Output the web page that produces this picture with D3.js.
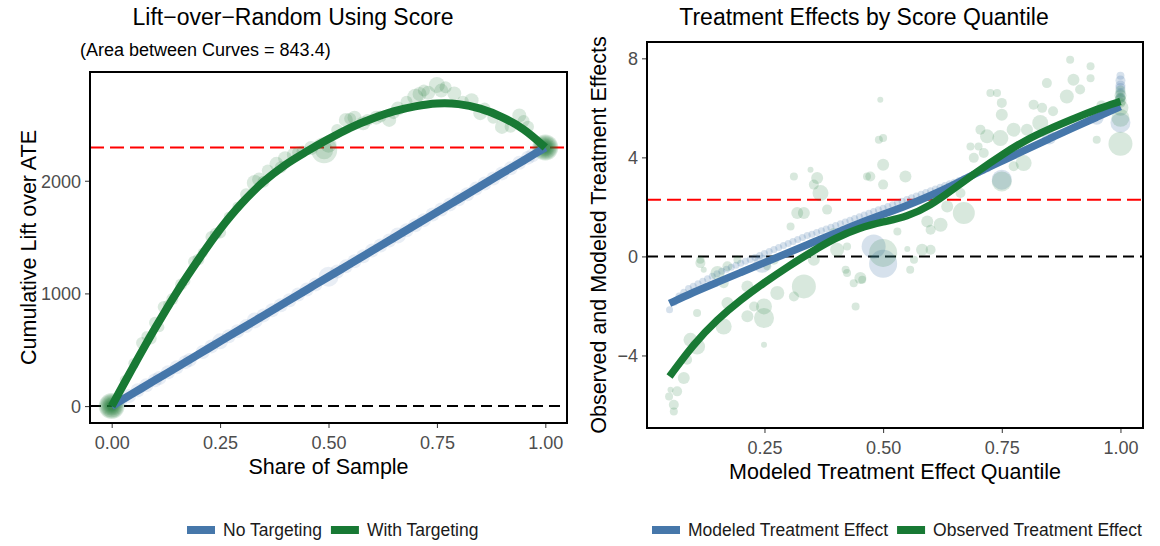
<!DOCTYPE html>
<html>
<head>
<meta charset="utf-8">
<script src="https://cdn.jsdelivr.net/npm/d3@7"></script>
<style>
  body { margin: 0; background: #fff; font-family: "Liberation Sans", Arial, sans-serif; }
  .tick text { fill: #4d4d4d; font-size: 18px; font-family: "Liberation Sans", Arial, sans-serif; }
  .tick line { stroke: #333; }
</style>
</head>
<body>
<div id="chart"></div>
<script>
// ---- left panel: cumulative lift ----
const liftShare = [0, 0.05, 0.1, 0.15, 0.2, 0.25, 0.3, 0.35, 0.4, 0.45, 0.5, 0.55, 0.6, 0.65, 0.7, 0.75, 0.8, 0.85, 0.9, 0.95, 1.0];
const liftTargeted = [0, 350, 690, 1010, 1300, 1570, 1800, 1990, 2140, 2260, 2370, 2470, 2550, 2615, 2660, 2685, 2680, 2640, 2565, 2455, 2295];
const liftRandom = [0, 115, 230, 344, 459, 574, 689, 803, 918, 1033, 1148, 1262, 1377, 1492, 1607, 1721, 1836, 1951, 2066, 2180, 2295];
const ateLift = 2295;
const areaBetween = 843.4;

// scatter behind the lift curves: [share, lift, radius]
const liftTargetedPts = [
  [0, 0, 13], [0, 0, 12], [0, 0, 11], [0, 0, 10], [0, 0, 9], [0, 0, 8], [0, 0, 7], [0, 0, 6], [0, 0, 5], [0, 0, 4],
  [0.03, 230, 5], [0.05, 380, 5], [0.07, 560, 6], [0.08, 620, 5], [0.09, 600, 6], [0.1, 740, 6], [0.11, 700, 5],
  [0.12, 880, 6], [0.13, 900, 5], [0.14, 950, 6], [0.16, 1080, 6], [0.17, 1110, 5], [0.19, 1280, 6], [0.2, 1300, 6],
  [0.21, 1360, 5], [0.23, 1500, 6], [0.24, 1530, 6], [0.25, 1540, 6], [0.27, 1680, 5], [0.29, 1770, 5], [0.31, 1880, 6],
  [0.33, 1980, 8], [0.34, 2010, 7], [0.35, 1990, 6], [0.36, 2090, 6], [0.38, 2150, 7], [0.39, 2120, 6], [0.4, 2200, 7],
  [0.42, 2230, 7], [0.43, 2250, 6], [0.44, 2260, 6], [0.46, 2290, 7], [0.49, 2270, 13], [0.49, 2270, 9], [0.5, 2320, 8],
  [0.52, 2450, 6], [0.54, 2540, 7], [0.55, 2550, 6], [0.56, 2560, 7], [0.58, 2510, 7], [0.59, 2540, 6], [0.61, 2560, 7],
  [0.62, 2570, 6], [0.64, 2540, 7], [0.65, 2600, 6], [0.66, 2640, 7], [0.68, 2700, 6], [0.7, 2745, 8], [0.71, 2770, 7],
  [0.72, 2800, 6], [0.73, 2780, 7], [0.75, 2850, 8], [0.76, 2800, 7], [0.77, 2830, 6], [0.79, 2775, 7], [0.81, 2700, 6],
  [0.83, 2715, 7], [0.85, 2600, 7], [0.86, 2640, 6], [0.88, 2560, 6], [0.9, 2478, 7], [0.92, 2480, 6], [0.94, 2580, 7],
  [0.95, 2530, 6], [0.96, 2480, 6],
  [1, 2295, 13], [1, 2295, 12], [1, 2295, 11], [1, 2295, 10], [1, 2295, 9], [1, 2295, 8], [1, 2295, 7], [1, 2295, 6], [1, 2295, 5]
];
const liftRandomPts = [
  [0.02, 45, 7], [0.04, 90, 7], [0.06, 140, 7], [0.08, 185, 7], [0.1, 230, 7], [0.11, 250, 7], [0.13, 300, 7], [0.15, 345, 7],
  [0.17, 390, 7], [0.18, 410, 7], [0.21, 480, 7], [0.23, 530, 7], [0.25, 575, 8], [0.27, 620, 7], [0.29, 665, 7],
  [0.31, 710, 7], [0.33, 760, 8], [0.35, 805, 7], [0.37, 850, 7], [0.39, 895, 7], [0.41, 940, 7], [0.43, 990, 7],
  [0.45, 1035, 7], [0.47, 1080, 7], [0.5, 1148, 10], [0.52, 1195, 7], [0.54, 1240, 7], [0.56, 1285, 7], [0.58, 1330, 7],
  [0.6, 1380, 7], [0.62, 1425, 7], [0.64, 1470, 7], [0.66, 1515, 8], [0.68, 1560, 7], [0.7, 1605, 7], [0.72, 1650, 7],
  [0.74, 1700, 7], [0.76, 1745, 7], [0.78, 1790, 7], [0.8, 1835, 7], [0.82, 1880, 7], [0.84, 1930, 7], [0.86, 1975, 7],
  [0.88, 2020, 7], [0.9, 2065, 7], [0.92, 2110, 7], [0.94, 2160, 7], [0.96, 2205, 7], [0.97, 2225, 7]
];

// ---- right panel: effects by quantile ----
const quantiles = [0.05, 0.1, 0.15, 0.2, 0.25, 0.3, 0.35, 0.4, 0.45, 0.5, 0.55, 0.6, 0.65, 0.7, 0.75, 0.8, 0.85, 0.9, 0.95, 1.0];
const modeledEffect = [-1.9, -1.45, -1.05, -0.65, -0.25, 0.15, 0.55, 0.95, 1.35, 1.7, 2.05, 2.45, 2.9, 3.4, 3.85, 4.3, 4.75, 5.2, 5.62, 6.05];
const observedEffect = [-4.85, -3.55, -2.55, -1.75, -1.05, -0.4, 0.2, 0.75, 1.15, 1.4, 1.6, 2.05, 2.75, 3.45, 4.1, 4.7, 5.15, 5.55, 5.95, 6.26];
const ate = 2.29;

const observedPts = [
  [0.049, -5.66, 4], [0.052, -5.39, 3], [0.059, -5.99, 5], [0.059, -6.26, 4], [0.066, -5.45, 5], [0.08, -4.91, 6],
  [0.087, -4.17, 5], [0.094, -3.37, 7], [0.108, -3.64, 8], [0.108, -2.29, 4], [0.115, -0.27, 5], [0.115, -0.13, 4],
  [0.122, -0.54, 3], [0.151, -0.67, 7], [0.164, -1.08, 5], [0.164, -2.83, 8], [0.172, -1.88, 6], [0.172, -0.4, 5],
  [0.193, -0.13, 4], [0.214, -1.21, 6], [0.214, -2.42, 6], [0.228, -2.02, 5], [0.249, -2.02, 8], [0.249, -2.49, 10],
  [0.249, -3.57, 3], [0.256, -0.4, 4], [0.27, -0.13, 5], [0.277, -1.48, 7], [0.305, 1.21, 4], [0.312, 3.23, 4],
  [0.312, -1.62, 5], [0.319, 1.75, 6], [0.333, 1.75, 6], [0.333, -1.21, 12], [0.347, 3.5, 3], [0.354, 2.9, 5],
  [0.354, -0.13, 6], [0.361, 3.17, 6], [0.368, 2.56, 8], [0.382, 1.89, 5], [0.396, 0.95, 5], [0.403, 0.27, 7],
  [0.421, -0.54, 4], [0.424, 0.4, 4], [0.424, -0.67, 4], [0.438, -1.08, 4], [0.442, -2.02, 4], [0.452, -0.87, 6],
  [0.456, -0.94, 4], [0.466, 3.23, 4], [0.473, 3.23, 5], [0.491, 4.71, 4], [0.494, 6.33, 3], [0.5, 4.78, 4],
  [0.5, 3.7, 6], [0.5, 2.9, 5], [0.5, 0.14, 14], [0.53, 1.01, 4], [0.547, 3.23, 6], [0.551, 0.3, 3],
  [0.557, -0.54, 4], [0.565, -0.13, 4], [0.582, 0.27, 6], [0.593, 1.41, 6], [0.6, 1.08, 5], [0.6, 0.27, 5],
  [0.621, 1.28, 7], [0.635, 2.02, 6], [0.663, 2.56, 5], [0.67, 1.75, 11], [0.684, 4.44, 4], [0.691, 3.98, 5],
  [0.701, 4.44, 4], [0.705, 5.12, 5], [0.712, 4.18, 5], [0.719, 4.85, 7], [0.726, 6.6, 4], [0.74, 6.6, 4],
  [0.747, 4.78, 8], [0.75, 6.2, 5], [0.75, 5.72, 6], [0.75, 3.03, 10], [0.775, 5.12, 7], [0.775, 3.64, 5],
  [0.796, 3.77, 8], [0.803, 5.12, 6], [0.817, 6.13, 5], [0.831, 5.39, 8], [0.835, 6.0, 5], [0.845, 7.0, 5],
  [0.858, 5.86, 5], [0.887, 6.46, 7], [0.894, 7.94, 4], [0.901, 7.14, 6], [0.915, 6.74, 5], [0.937, 7.68, 4],
  [0.937, 7.2, 4], [0.95, 4.71, 4], [0.96, 6.1, 5], [1, 6.3, 6], [1, 6.5, 6], [1, 6.7, 5], [1, 6.0, 8],
  [1, 6.2, 5], [1, 6.4, 5], [1, 5.6, 9], [1, 4.55, 12]
];
// modeled effects: tight band of small dots plus a few wide bins
const modeledPts = [
  [0.05, -2.15, 3.5], [0.06, -1.85, 3.5], [0.07, -1.6, 3.5], [0.08, -1.45, 3.5], [0.09, -1.3, 3.5], [0.1, -1.2, 3.5],
  [0.11, -1.1, 3.5], [0.12, -1.0, 3.5], [0.13, -0.9, 3.5], [0.14, -0.8, 3.5], [0.15, -0.7, 3.5], [0.16, -0.6, 3.5],
  [0.17, -0.52, 3.5], [0.18, -0.44, 3.5], [0.19, -0.36, 3.5], [0.2, -0.28, 3.5], [0.21, -0.2, 3.5], [0.22, -0.12, 3.5],
  [0.23, -0.04, 3.5], [0.24, 0.04, 3.5], [0.25, 0.12, 3.5], [0.26, 0.2, 3.5], [0.27, 0.28, 3.5], [0.28, 0.36, 3.5],
  [0.29, 0.44, 3.5], [0.3, 0.52, 3.5], [0.31, 0.6, 3.5], [0.32, 0.68, 3.5], [0.33, 0.76, 3.5], [0.34, 0.84, 3.5],
  [0.35, 0.9, 3.5], [0.36, 0.97, 3.5], [0.37, 1.04, 3.5], [0.38, 1.11, 3.5], [0.39, 1.18, 3.5], [0.4, 1.25, 3.5],
  [0.41, 1.32, 3.5], [0.42, 1.39, 3.5], [0.43, 1.46, 3.5], [0.44, 1.53, 3.5], [0.45, 1.6, 3.5], [0.46, 1.67, 3.5],
  [0.47, 1.74, 3.5], [0.48, 1.81, 3.5], [0.49, 1.88, 3.5], [0.5, 1.95, 3.5], [0.51, 2.02, 3.5], [0.52, 2.09, 3.5],
  [0.53, 2.16, 3.5], [0.54, 2.23, 3.5], [0.55, 2.3, 3.5], [0.56, 2.37, 3.5], [0.57, 2.44, 3.5], [0.58, 2.51, 3.5],
  [0.59, 2.58, 3.5], [0.6, 2.65, 3.5], [0.61, 2.72, 3.5], [0.62, 2.79, 3.5], [0.63, 2.86, 3.5], [0.64, 2.93, 3.5],
  [0.65, 3.0, 3.5], [0.66, 3.07, 3.5], [0.67, 3.14, 3.5], [0.68, 3.22, 3.5], [0.69, 3.3, 3.5], [0.7, 3.38, 3.5],
  [0.71, 3.46, 3.5], [0.72, 3.54, 3.5],
  [0.245, -0.3, 9], [0.48, 0.4, 12], [0.5, -0.3, 14], [0.75, 3.1, 10], [0.85, 4.8, 7], [0.95, 5.6, 7],
  [1, 5.4, 10], [1, 6.4, 5], [1, 6.6, 5], [1, 6.8, 5], [1, 6.9, 5], [1, 7.1, 5], [1, 7.3, 4]
];

const blue = '#4677aa';
const green = '#187934';
const font = '"Liberation Sans", Arial, sans-serif';

const svg = d3.select('#chart').append('svg')
  .attr('width', 1160)
  .attr('height', 546);

function panel(opts) {
  const m = opts.margin;
  const w = opts.width, h = opts.height;
  const g = svg.append('g').attr('transform', `translate(${m.left},${m.top})`);

  const x = d3.scaleLinear().domain(opts.xDomain).range([0, w]);
  const y = d3.scaleLinear().domain(opts.yDomain).range([h, 0]);

  g.append('clipPath').attr('id', opts.id + '-clip')
    .append('rect').attr('width', w).attr('height', h);

  const plot = g.append('g').attr('clip-path', `url(#${opts.id}-clip)`);

  // reference lines
  plot.append('line')
    .attr('x1', 0).attr('x2', w)
    .attr('y1', y(0)).attr('y2', y(0))
    .attr('stroke', '#000').attr('stroke-width', 2).attr('stroke-dasharray', '11,6');
  plot.append('line')
    .attr('x1', 0).attr('x2', w)
    .attr('y1', y(opts.refLine)).attr('y2', y(opts.refLine))
    .attr('stroke', '#ff0000').attr('stroke-width', 2).attr('stroke-dasharray', '14,6');

  // faint points
  plot.selectAll('.pt-a').data(opts.ptsA).join('circle')
    .attr('cx', d => x(d[0])).attr('cy', d => y(d[1])).attr('r', d => d[2])
    .attr('fill', blue).attr('fill-opacity', opts.alphaA);
  plot.selectAll('.pt-b').data(opts.ptsB).join('circle')
    .attr('cx', d => x(d[0])).attr('cy', d => y(d[1])).attr('r', d => d[2])
    .attr('fill', green).attr('fill-opacity', opts.alphaB);

  const line = d3.line()
    .x(d => x(d[0]))
    .y(d => y(d[1]))
    .curve(opts.curve);

  plot.append('path')
    .datum(opts.lineA)
    .attr('fill', 'none').attr('stroke', blue).attr('stroke-width', opts.lw)
    .attr('d', line);
  plot.append('path')
    .datum(opts.lineB)
    .attr('fill', 'none').attr('stroke', green).attr('stroke-width', opts.lw)
    .attr('d', line);

  // axes
  const xAxis = d3.axisBottom(x).tickValues(opts.xTicks).tickFormat(d3.format('.2f')).tickSize(5).tickPadding(4);
  const yAxis = d3.axisLeft(y).tickValues(opts.yTicks).tickFormat(opts.yFormat).tickSize(5).tickPadding(4);
  g.append('g').attr('transform', `translate(0,${h})`).call(xAxis)
    .call(s => s.select('.domain').remove())
    .selectAll('.tick text').attr('dy', '0.95em');
  g.append('g').call(yAxis)
    .call(s => s.select('.domain').remove())
    .selectAll('.tick text').attr('dy', '0.35em');

  g.append('rect')
    .attr('width', w).attr('height', h)
    .attr('fill', 'none').attr('stroke', '#000').attr('stroke-width', 2);

  // titles
  svg.append('text')
    .attr('x', opts.titleX).attr('y', 25)
    .attr('text-anchor', 'middle')
    .style('font-family', font).style('font-size', '23px')
    .text(opts.title);

  g.append('text')
    .attr('x', w / 2).attr('y', h + 51)
    .attr('text-anchor', 'middle')
    .style('font-family', font).style('font-size', '21.5px')
    .text(opts.xLabel);

  g.append('text')
    .attr('transform', `translate(${opts.yLabelX},${h / 2}) rotate(-90)`)
    .attr('text-anchor', 'middle')
    .attr('dy', '0.35em')
    .style('font-family', font).style('font-size', '21.5px')
    .text(opts.yLabel);

  // legend
  const lg = svg.append('g').attr('transform', `translate(${opts.legendX},530)`);
  let cx = 0;
  opts.legend.forEach((item, i) => {
    lg.append('rect')
      .attr('x', cx).attr('y', -4).attr('width', 28).attr('height', 8)
      .attr('fill', i === 0 ? blue : green);
    const t = lg.append('text')
      .attr('x', cx + 36).attr('y', 0).attr('dy', '0.35em')
      .style('font-family', font).style('font-size', '17.5px').style('fill', '#1a1a1a')
      .text(item);
    cx += 36 + t.node().getComputedTextLength() + 9;
  });

  return g;
}

const left = panel({
  id: 'lift',
  margin: { top: 72, left: 90 },
  width: 477,
  height: 351,
  xDomain: [-0.05, 1.05],
  yDomain: [-150, 2965],
  xTicks: [0, 0.25, 0.5, 0.75, 1],
  yTicks: [0, 1000, 2000],
  yFormat: d3.format('d'),
  refLine: ateLift,
  ptsA: liftRandomPts,
  ptsB: liftTargetedPts,
  alphaA: 0.12,
  alphaB: 0.16,
  lineA: liftShare.map((s, i) => [s, liftRandom[i]]),
  lineB: liftShare.map((s, i) => [s, liftTargeted[i]]),
  curve: d3.curveCatmullRom.alpha(0.5),
  lw: 8,
  title: 'Lift\u2212over\u2212Random Using Score',
  titleX: 293,
  xLabel: 'Share of Sample',
  yLabel: 'Cumulative Lift over ATE',
  yLabelX: -62,
  legend: ['No Targeting', 'With Targeting'],
  legendX: 187
});

left.append('text')
  .attr('x', -10).attr('y', -16)
  .style('font-family', font).style('font-size', '18px')
  .text(`(Area between Curves = ${areaBetween})`);

panel({
  id: 'effects',
  margin: { top: 42, left: 647 },
  width: 496,
  height: 386,
  xDomain: [0.0025, 1.0475],
  yDomain: [-6.93, 8.66],
  xTicks: [0.25, 0.5, 0.75, 1],
  yTicks: [-4, 0, 4, 8],
  yFormat: d3.format('d'),
  refLine: ate,
  ptsA: modeledPts,
  ptsB: observedPts,
  alphaA: 0.22,
  alphaB: 0.17,
  lineA: quantiles.map((q, i) => [q, modeledEffect[i]]),
  lineB: quantiles.map((q, i) => [q, observedEffect[i]]),
  curve: d3.curveBasis,
  lw: 7.5,
  title: 'Treatment Effects by Score Quantile',
  titleX: 864,
  xLabel: 'Modeled Treatment Effect Quantile',
  yLabel: 'Observed and Modeled Treatment Effects',
  yLabelX: -49,
  legend: ['Modeled Treatment Effect', 'Observed Treatment Effect'],
  legendX: 652
});
</script>
</body>
</html>
